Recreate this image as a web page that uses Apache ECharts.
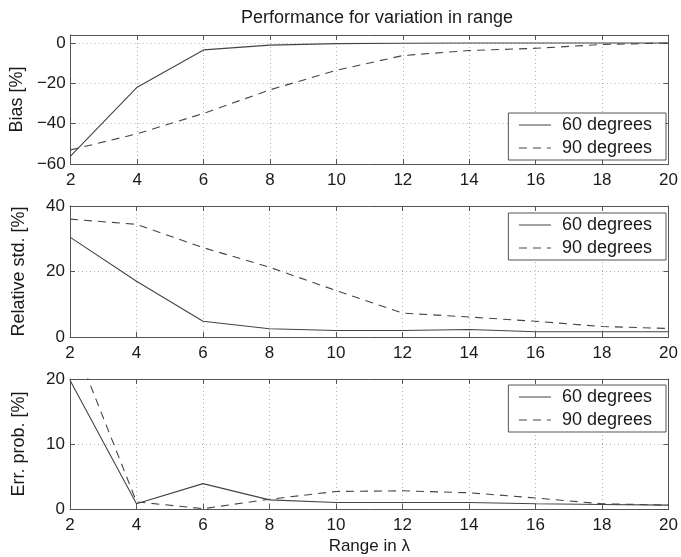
<!DOCTYPE html>
<html>
<head>
<meta charset="utf-8">
<script src="https://cdn.jsdelivr.net/npm/echarts@6/dist/echarts.min.js"></script>
<style>
html,body{margin:0;padding:0;background:#fff;}
#chart{width:681px;height:557px;}
</style>
</head>
<body>
<div id="chart"></div>
<script>
const rangeLambda = [2, 4, 6, 8, 10, 12, 14, 16, 18, 20];
const seriesNames = ['60 degrees', '90 degrees'];
const bias60 = [-56, -21.9, -3.4, -1.0, -0.3, -0.1, 0, 0, 0, 0];
const bias90 = [-53, -45, -34.9, -23.2, -13.5, -6.2, -3.7, -2.6, -0.7, 0];
const std60 = [30.5, 17, 4.8, 2.5, 2.0, 2.0, 2.3, 1.6, 1.6, 1.6];
const std90 = [36, 34.4, 27.3, 21.3, 14.2, 7.3, 6.1, 4.8, 3.2, 2.6];
const err60 = [19.8, 0.8, 3.9, 1.4, 1.0, 1.0, 1.0, 0.8, 0.7, 0.6];
const err90 = [27, 1.1, 0.05, 1.5, 2.7, 2.8, 2.5, 1.7, 0.8, 0.6];

const panelNames = ['Bias [%]', 'Relative std. [%]', 'Err. prob. [%]'];
const yRanges = [[-60, 4, 20], [0, 40, 20], [0, 20, 10]];
const panelData = [[bias60, bias90], [std60, std90], [err60, err90]];

const FONT = 'Liberation Sans';
const TXT = '#1a1a1a';
const LINE = '#444444';
const FRAME = '#555555';

const grids = [
  {left: 70, right: 9, top: 35, height: 129},
  {left: 70, right: 9, top: 206, height: 131},
  {left: 70, right: 9, top: 379, height: 130}
];
const legendTops = [113, 213, 385];

const fmtNum = v => (v < 0 ? '\u2212' + Math.abs(v) : String(v));

const xAxes = [], yAxes = [], series = [], legends = [];
grids.forEach((g, i) => {
  xAxes.push({
    type: 'value', gridIndex: i, min: 2, max: 20, interval: 2,
    name: i === 2 ? 'Range in \u03bb' : '', nameLocation: 'middle', nameGap: 29,
    nameTextStyle: {fontFamily: FONT, fontSize: 17, color: TXT},
    axisLine: {show: true, onZero: false, lineStyle: {color: FRAME, width: 1}},
    axisTick: {show: true, inside: true, length: 5, lineStyle: {color: FRAME}},
    axisLabel: {fontFamily: FONT, fontSize: 17, color: TXT, margin: 8},
    splitLine: {show: true, lineStyle: {color: '#b0b0b0', type: [1, 3], width: 1}}
  });
  xAxes.push({
    type: 'value', gridIndex: i, min: 2, max: 20, interval: 2, position: 'top',
    axisLine: {show: true, onZero: false, lineStyle: {color: FRAME, width: 1}},
    axisTick: {show: true, inside: true, length: 5, lineStyle: {color: FRAME}},
    axisLabel: {show: false}, splitLine: {show: false}
  });
  const r = yRanges[i];
  yAxes.push({
    type: 'value', gridIndex: i, min: r[0], max: r[1], interval: r[2],
    name: panelNames[i], nameLocation: 'middle', nameGap: 42, nameRotate: 90,
    nameTextStyle: {fontFamily: FONT, fontSize: 18, color: TXT},
    axisLine: {show: true, onZero: false, lineStyle: {color: FRAME, width: 1}},
    axisTick: {show: true, inside: true, length: 5, lineStyle: {color: FRAME}},
    axisLabel: {fontFamily: FONT, fontSize: 17, color: TXT, margin: 5,
      showMaxLabel: i !== 0, formatter: fmtNum},
    splitLine: {show: true, lineStyle: {color: '#b0b0b0', type: [1, 3], width: 1}}
  });
  yAxes.push({
    type: 'value', gridIndex: i, min: r[0], max: r[1], interval: r[2], position: 'right',
    axisLine: {show: true, onZero: false, lineStyle: {color: FRAME, width: 1}},
    axisTick: {show: true, inside: true, length: 5, lineStyle: {color: FRAME}},
    axisLabel: {show: false}, splitLine: {show: false}
  });
  panelData[i].forEach((vals, k) => {
    series.push({
      type: 'line', name: seriesNames[k],
      xAxisIndex: i * 2, yAxisIndex: i * 2,
      data: rangeLambda.map((x, j) => [x, vals[j]]),
      symbol: 'none', clip: true, animation: false,
      lineStyle: {color: LINE, width: 1.1, type: k === 0 ? 'solid' : [8, 6]},
      itemStyle: {color: LINE}
    });
  });
  legends.push({
    orient: 'vertical', right: 15, top: legendTops[i],
    data: seriesNames, selectedMode: false,
    backgroundColor: '#fff', borderColor: FRAME, borderWidth: 1,
    padding: [2, 14, 2, 10], itemGap: 3, itemWidth: 32, itemHeight: 14,
    itemStyle: {opacity: 0},
    lineStyle: {width: 1.1},
    textStyle: {fontFamily: FONT, fontSize: 18, color: TXT, lineHeight: 20, padding: [0, 0, 0, 6]}
  });
});

const chart = echarts.init(document.getElementById('chart'), null, {renderer: 'canvas'});
chart.setOption({
  backgroundColor: '#fff',
  animation: false,
  title: {
    text: 'Performance for variation in range', left: 372, top: 4, textAlign: 'center',
    textStyle: {fontFamily: FONT, fontSize: 18, fontWeight: 'normal', color: TXT}
  },
  grid: grids,
  xAxis: xAxes,
  yAxis: yAxes,
  legend: legends,
  series: series
});
</script>
</body>
</html>
